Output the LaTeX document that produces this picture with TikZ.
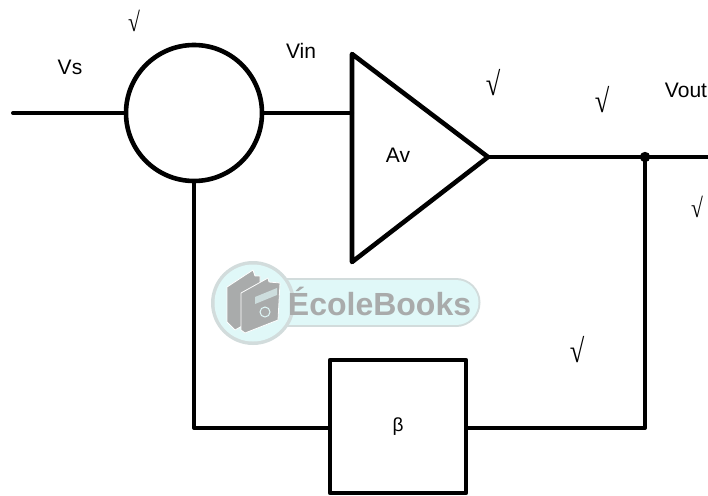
\documentclass[tikz,border=0pt]{standalone}
\usepackage{fontspec}
\setmainfont{Liberation Sans}
\newfontfamily\radfont{Liberation Serif}
\definecolor{wmgray}{HTML}{A9ABAB}
\definecolor{wmpill}{HTML}{E0F8F8}
\definecolor{wmedge}{HTML}{D2DCDC}
\tikzset{
  wire/.style={line width=4pt,line cap=round,line join=round},
  shapeline/.style={line width=4.6pt,line cap=round,line join=round},
  lab/.style={inner sep=0pt,font=\fontsize{21}{24}\selectfont},
  rad/.style={inner sep=0pt,xscale=.8,font=\radfont\fontsize{#1}{#1}\selectfont},
  book/.style={fill=wmgray,draw=white,line width=.8pt,line join=round},
}
\begin{document}
\begin{tikzpicture}[x=1pt,y=-1pt]
\useasboundingbox (0,0) rectangle (708,495);
% watermark
\fill[wmedge] (262,278) rectangle (456,327);
\fill[wmedge] (456,302.5) circle[radius=24.5];
\fill[wmpill] (262,280) rectangle (456,325);
\fill[wmpill] (456,302.5) circle[radius=22.5];
\fill[wmedge] (253,303) circle[radius=42];
\fill[wmpill] (253,303) circle[radius=38.5];
\path[book] (227,287) -- (253,270) -- (255,276) -- (260,276) -- (260,316) -- (235,330) -- (227,322) -- cycle;
\path[book] (241,293) -- (268,278) -- (269,282) -- (280,283) -- (278,320) -- (245,333) -- (241,330) -- cycle;
\fill[wmpill!65!wmgray] (255,297) -- (277,288) -- (277,295) -- (255,304) -- cycle;
\draw[wmpill,line width=1pt] (265,312) circle[radius=5];
\node[inner sep=0pt,text=wmgray,font=\bfseries\fontsize{32}{33}\selectfont] (wm) at (379.5,301) {ÉcoleBooks};
% diagram
\node[circle,draw,shapeline,minimum size=136pt,inner sep=0pt] (sum) at (194,113) {};
\coordinate (ta) at (352,54);
\coordinate (tb) at (352,262);
\coordinate (tc) at (488,157);
\coordinate (tin) at (352,113);
\draw[shapeline] (ta) -- (tb) -- (tc) -- cycle;
\node[rectangle,draw,shapeline,minimum width=136pt,minimum height=133pt,inner sep=0pt] (beta) at (398,426.5) {\raisebox{-3pt}{\fontsize{19}{20}\selectfont β}};
\coordinate (in) at (13,113);
\coordinate (out) at (708,157);
\coordinate (j) at (645,157);
\coordinate (fb) at (398,428);
\draw[wire] (in) -- (sum.west);
\draw[wire] (sum.east) -- (tin);
\draw[wire] (tc) -- (out);
\fill (j) circle[radius=5.2];
\draw[wire] (j) -- (j |- fb) -- (fb -| beta.east);
\draw[wire] (fb -| beta.west) -- (sum.south |- fb) -- (sum.south);
% labels
\node[lab] (vs) at (70,67) {Vs};
\node[lab] (vin) at (301,51) {Vin};
\node[lab] (av) at (398,155) {Av};
\node[lab] (vout) at (686,90) {Vout};
\node[rad=27] (r1) at (134,21) {√};
\node[rad=33] (r2) at (493,83) {√};
\node[rad=33] (r3) at (602,100) {√};
\node[rad=27] (r4) at (697,207) {√};
\node[rad=33] (r5) at (577,350) {√};
\end{tikzpicture}
\end{document}
